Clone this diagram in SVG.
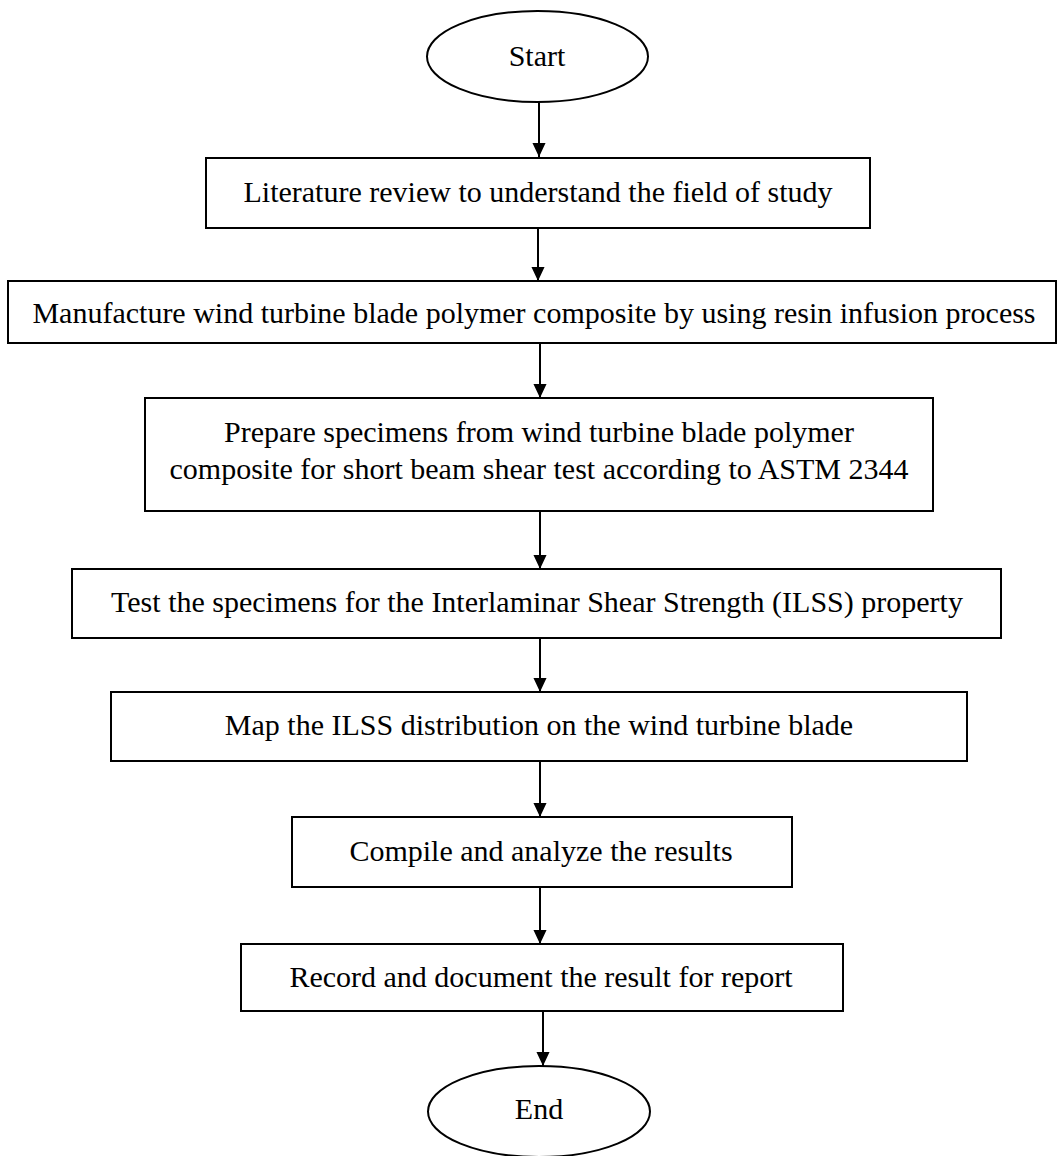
<svg xmlns="http://www.w3.org/2000/svg" width="1058" height="1156" viewBox="0 0 1058 1156">
<style>
.box{fill:#fff;stroke:#000;stroke-width:2}
.t{font-family:"Liberation Serif","Times New Roman",serif;font-size:30px;fill:#000;text-anchor:middle}
.c{stroke:#000;stroke-width:2;fill:none;marker-end:url(#ah)}
</style>
<defs>
<marker id="ah" markerUnits="userSpaceOnUse" markerWidth="14" markerHeight="15" refX="15" refY="7" orient="auto" viewBox="0 0 15 14">
<path d="M0,0 L15,7 L0,14 z" fill="#000"/>
</marker>
</defs>
<rect width="1058" height="1156" fill="#fff"/>
<g id="connectors">
<line class="c" x1="539" y1="102" x2="539" y2="157"/>
<line class="c" x1="538" y1="228" x2="538" y2="281"/>
<line class="c" x1="540" y1="343" x2="540" y2="398"/>
<line class="c" x1="540" y1="511" x2="540" y2="569"/>
<line class="c" x1="540" y1="638" x2="540" y2="692"/>
<line class="c" x1="540" y1="761" x2="540" y2="817"/>
<line class="c" x1="540" y1="887" x2="540" y2="944"/>
<line class="c" x1="543" y1="1011" x2="543" y2="1066"/>
</g>
<g id="start">
<ellipse class="box" cx="537.5" cy="56.5" rx="110.5" ry="45.5"/>
<text class="t" x="537" y="66">Start</text>
</g>
<g id="literature">
<rect class="box" x="206" y="158" width="664" height="70"/>
<text class="t" x="538" y="202">Literature review to understand the field of study</text>
</g>
<g id="manufacture">
<rect class="box" x="8" y="281" width="1048" height="62"/>
<text class="t" x="534" y="323">Manufacture wind turbine blade polymer composite by using resin infusion process</text>
</g>
<g id="prepare">
<rect class="box" x="145" y="398" width="788" height="113"/>
<text class="t" x="539" y="442">Prepare specimens from wind turbine blade polymer</text>
<text class="t" x="539" y="479">composite for short beam shear test according to ASTM 2344</text>
</g>
<g id="test">
<rect class="box" x="72" y="569" width="929" height="69"/>
<text class="t" x="537" y="612">Test the specimens for the Interlaminar Shear Strength (ILSS) property</text>
</g>
<g id="map">
<rect class="box" x="111" y="692" width="856" height="69"/>
<text class="t" x="539" y="735">Map the ILSS distribution on the wind turbine blade</text>
</g>
<g id="compile">
<rect class="box" x="292" y="817" width="500" height="70"/>
<text class="t" x="541" y="861">Compile and analyze the results</text>
</g>
<g id="record">
<rect class="box" x="241" y="944" width="602" height="67"/>
<text class="t" x="541" y="987">Record and document the result for report</text>
</g>
<g id="end">
<ellipse class="box" cx="539" cy="1111.5" rx="111" ry="45.5"/>
<text class="t" x="539" y="1119">End</text>
</g>
</svg>
